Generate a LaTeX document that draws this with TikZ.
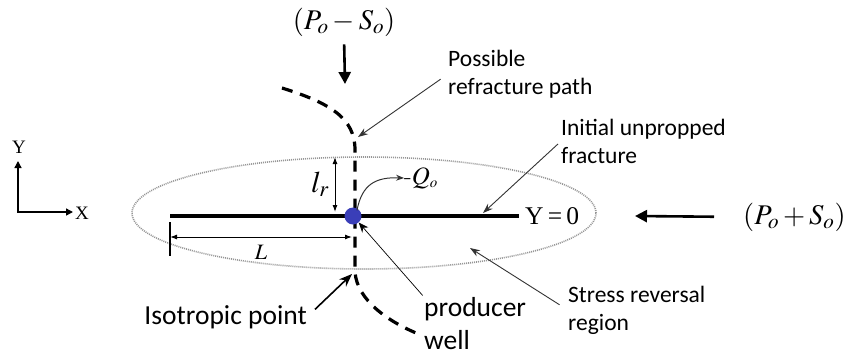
\documentclass[tikz,border=0pt]{standalone}
\usepackage{mathptmx}
\usepackage[no-math]{fontspec}
\newfontfamily\calib{Carlito}
\newfontfamily\tms{Liberation Serif}
\usetikzlibrary{arrows.meta}
\definecolor{wellblue}{RGB}{58,62,184}
\definecolor{rimgray}{RGB}{150,150,150}

\begin{document}
\begin{tikzpicture}[x=1pt,y=-1pt,
    note/.style={font=\calib\fontsize{23.5}{27.5}\selectfont, align=left, inner sep=0pt, anchor=north west},
    bignote/.style={font=\calib\fontsize{27.5}{33}\selectfont, align=left, inner sep=0pt},
    mathlbl/.style={font=\fontsize{28.5}{30}\selectfont, inner sep=0pt},
    bigarrow/.style={line width=2.6pt, -{Triangle[length=12pt,width=12pt]}},
    pointer/.style={line width=0.9pt, black!80, -{Stealth[length=10pt,width=7pt]}},
    dimline/.style={line width=1pt, {Latex[length=7pt,width=5pt]}-{Latex[length=7pt,width=5pt]}}]
    \useasboundingbox (0,0) rectangle (852,360);

    % --- stress reversal region and fracture ---
    \draw[rimgray, line width=1.6pt, dash pattern=on 1pt off 1pt] (364,213) ellipse (232pt and 56pt);
    \coordinate (fracL) at (170,216);
    \coordinate (fracR) at (519,216);
    \draw[line width=3.6pt] (fracL) -- (fracR);
    \node[font=\tms\fontsize{25.5}{28}\selectfont, inner sep=0pt, anchor=west] (yzero) at (525,216) {Y\,=\,0};

    % refracture path
    \draw[line width=3.2pt, dash pattern=on 11pt off 8pt]
        (282,88) .. controls (330,103) and (355,118) .. (355,150) -- (355,272)
        .. controls (357,300) and (388,322) .. (421,335);
    \node[circle, fill=wellblue, inner sep=0pt, minimum size=17pt] (well) at (353,216) {};

    % --- far field stresses ---
    \node[mathlbl] (pms) at (344,22) {$(P_o-S_o)$};
    \coordinate (pmsTip) at (345,84);
    \draw[bigarrow, shorten <=8pt] (pms.south) -- (pmsTip);
    \node[mathlbl, anchor=west] (pps) at (743,217) {$(P_o+S_o)$};
    \coordinate (ppsTip) at (635,216);
    \draw[bigarrow, shorten <=29pt] (pps.west) -- (ppsTip);

    % --- labels with pointers ---
    \node[note] (refr) at (448,50) {Possible\\refracture path};
    \coordinate (refrTip) at (358,137);
    \draw[pointer, shorten <=9pt] (refr.west) -- (refrTip);

    \node[note] (initf) at (561,119) {Initial unpropped\\fracture};
    \coordinate (initfTip) at (483,213);
    \draw[pointer, shorten <=4pt] (initf.west) -- (initfTip);

    \node[note] (stress) at (568,286) {Stress reversal\\region};
    \coordinate (stressTip) at (470,248);
    \draw[pointer, shorten <=10pt] (stress.west) -- (stressTip);

    \node[bignote, anchor=north west] (prod) at (424,297) {producer\\well};
    \draw[line width=0.7pt, -{Stealth[length=10pt,width=8pt]}, shorten <=2pt] (prod.north west) -- (well);

    \node[bignote, anchor=east] (iso) at (307,317) {Isotropic point};
    \coordinate (isoTip) at (352,274);
    \draw[line width=1.6pt, -{Stealth[length=13pt,width=10pt]}, shorten <=11pt] (iso.east) -- (isoTip);

    % --- flow out of the well ---
    \node[font=\fontsize{25}{28}\selectfont, inner sep=0pt, anchor=west] (qo) at (404,178) {-$Q_{\scriptscriptstyle o}$};
    \draw[line width=1pt, black!80, -{Stealth[length=8pt,width=6pt]}]
        (well.north) ++(4pt,-3pt) .. controls (362,184) and (376,177) .. (qo.west);

    % --- dimensions ---
    \coordinate (lrTop) at (335,157);
    \coordinate (lrBot) at (335,212);
    \draw[dimline] (lrTop) -- (lrBot);
    \node[font=\fontsize{30}{32}\selectfont, inner sep=0pt] (lr) at (320,184) {$l_r$};

    \coordinate (tickTop) at (170,222);
    \coordinate (tickBot) at (170,256);
    \draw[line width=1.4pt] (tickTop) -- (tickBot);
    \coordinate (Lend) at (352,237);
    \draw[dimline] (tickTop |- Lend) -- (Lend);
    \node[font=\fontsize{22}{24}\selectfont, inner sep=0pt] (Llbl) at (261,252) {$L$};

    % --- axes ---
    \coordinate (origin) at (18,212);
    \coordinate (yaxis) at (18,161);
    \coordinate (xaxis) at (73,212);
    \draw[line width=1.4pt, {Triangle[length=7pt,width=7pt]}-{Triangle[length=7pt,width=7pt]}] (yaxis) -- (origin) -- (xaxis);
    \node[font=\tms\fontsize{19}{22}\selectfont, inner sep=0pt] (ylbl) at (19,147) {Y};
    \node[font=\tms\fontsize{19}{22}\selectfont, inner sep=0pt, anchor=west] (xlbl) at (75,213) {X};
\end{tikzpicture}
\end{document}
